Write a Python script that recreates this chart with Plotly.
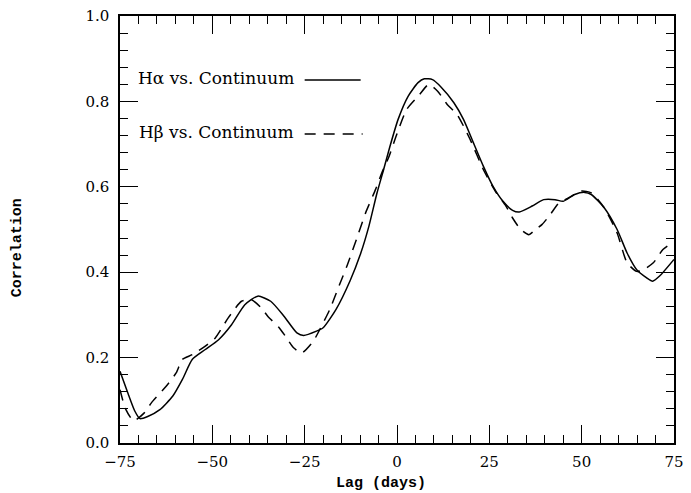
import plotly.graph_objects as go

# H-alpha vs continuum (solid)
lag_ha = [-75, -73, -71, -69.6, -67.5, -64.2, -60.7, -58.1, -55.4, -51.9, -48.3, -44.8, -41.2,
          -37.7, -34.2, -30.6, -27.1, -25.3, -21.8, -20, -16.5, -12.7, -9.8, -7.6, -5.4, -3.6,
          -1.9, 0.3, 3.0, 5.7, 7.4, 9.6, 11.9, 15.4, 18.0, 20.7, 23.4, 26.0, 28.7, 31.3, 33.1,
          36.6, 39.7, 42.8, 45.0, 48.1, 50.8, 52.6, 56.1, 59.6, 62.3, 64.9, 67.6, 69.2, 71.1, 75]
corr_ha = [0.168, 0.12, 0.075, 0.057, 0.062, 0.078, 0.110, 0.149, 0.196, 0.219, 0.242, 0.277, 0.324,
           0.344, 0.332, 0.297, 0.258, 0.252, 0.262, 0.27, 0.313, 0.38, 0.445, 0.508, 0.586, 0.641,
           0.695, 0.758, 0.812, 0.844, 0.853, 0.851, 0.834, 0.797, 0.758, 0.703, 0.648, 0.601, 0.566,
           0.545, 0.541, 0.555, 0.570, 0.570, 0.566, 0.582, 0.587, 0.582, 0.551, 0.500, 0.445, 0.406,
           0.387, 0.379, 0.391, 0.430]

# H-beta vs continuum (dashed)
lag_hb = [-75, -73.5, -71.3, -68.5, -66.5, -62.5, -59.8, -58.1, -55.4, -51.9, -49.2, -45.7, -42.1,
          -39.5, -36.8, -35.0, -31.9, -30.2, -28.0, -25.8, -22.7, -20.9, -18.2, -15.6, -13.4, -10.7,
          -8.5, -5.8, -4.1, -2.3, -0.1, 2.6, 6.1, 8.6, 11.0, 13.6, 16.3, 19.8, 23.4, 26.9, 29.5,
          31.3, 33.5, 35.7, 37.5, 39.3, 41.5, 43.7, 46.4, 49.9, 52.6, 56.1, 59.6, 62.3, 64.9, 66.7,
          69.4, 72.0, 75]
corr_hb = [0.125, 0.08, 0.052, 0.07, 0.094, 0.133, 0.164, 0.196, 0.207, 0.227, 0.246, 0.293, 0.332,
           0.336, 0.317, 0.297, 0.270, 0.250, 0.223, 0.211, 0.238, 0.266, 0.313, 0.37, 0.418, 0.484,
           0.539, 0.594, 0.633, 0.668, 0.722, 0.781, 0.816, 0.84, 0.824, 0.793, 0.769, 0.711, 0.640,
           0.586, 0.555, 0.527, 0.500, 0.488, 0.500, 0.512, 0.535, 0.561, 0.574, 0.590, 0.586, 0.551,
           0.492, 0.422, 0.402, 0.406, 0.422, 0.453, 0.472]

# tick values and labels for the lag axis
x_tickvals = [-75, -50, -25, 0, 25, 50, 75]
x_ticktext = ["\u221275", "\u221250", "\u221225", "0", "25", "50", "75"]

legend_labels = ["H\u03b1 vs. Continuum", "H\u03b2 vs. Continuum"]
x_title = "Lag (days)"
y_title = "Correlation"

DASH = "11px,8px"

fig = go.Figure()
fig.add_trace(go.Scatter(x=lag_ha, y=corr_ha, mode="lines",
                         line=dict(color="black", width=1.5, shape="spline", smoothing=0.6),
                         showlegend=False, hoverinfo="skip"))
fig.add_trace(go.Scatter(x=lag_hb, y=corr_hb, mode="lines",
                         line=dict(color="black", width=1.5, dash=DASH, shape="spline", smoothing=0.6),
                         showlegend=False, hoverinfo="skip"))

W, H = 691, 493
ml, mr, mt, mb = 120, 7, 16, 50
pw, ph = W - ml - mr, H - mt - mb


def px(xp):
    return (xp - ml) / pw


def py(yp):
    return (H - mb - yp) / ph


serif = "DejaVu Serif"
mono = "Liberation Mono"

axis_common = dict(showline=True, linecolor="black", linewidth=1.5, mirror="ticks",
                   ticks="inside", ticklen=18, tickwidth=1.3, tickcolor="black",
                   showgrid=False, zeroline=False,
                   tickfont=dict(family=serif, size=15, color="black"))

fig.update_xaxes(range=[-75, 75], tickmode="array", tickvals=x_tickvals, ticktext=x_ticktext,
                 ticklabelstandoff=4, ticklabeloverflow="allow",
                 minor=dict(tickmode="linear", tick0=-75, dtick=5, ticks="inside", ticklen=8,
                            tickwidth=1.2, tickcolor="black", showgrid=False),
                 **axis_common)
fig.update_yaxes(range=[0, 1.0001], tick0=0, dtick=0.2, tickformat=".1f", ticklabelstandoff=6,
                 minor=dict(dtick=0.04, ticks="inside", ticklen=8, tickwidth=1.2, tickcolor="black", showgrid=False),
                 **axis_common)

annotations = [
    dict(text=y_title, xref="paper", yref="paper", x=px(16), y=py(247.5), textangle=-90,
         showarrow=False, font=dict(family=mono, size=15, color="black", weight="bold"),
         xanchor="center", yanchor="middle"),
    dict(text=x_title, xref="paper", yref="paper", x=px(386), y=py(484),
         showarrow=False, font=dict(family=mono, size=15, color="black", weight="bold"),
         xanchor="center", yanchor="middle"),
    dict(text=legend_labels[0], xref="paper", yref="paper", x=px(299), y=py(77.5),
         showarrow=False, font=dict(family=serif, size=17, color="black"), xanchor="right", yanchor="middle"),
    dict(text=legend_labels[1], xref="paper", yref="paper", x=px(299), y=py(132),
         showarrow=False, font=dict(family=serif, size=17, color="black"), xanchor="right", yanchor="middle"),
]

shapes = [
    dict(type="line", xref="paper", yref="paper", x0=px(308), x1=px(365), y0=py(80), y1=py(80),
         line=dict(color="black", width=1.3)),
    dict(type="line", xref="paper", yref="paper", x0=px(308), x1=px(367), y0=py(134), y1=py(134),
         line=dict(color="black", width=1.3, dash=DASH)),
]

fig.update_layout(width=W, height=H, margin=dict(l=ml, r=mr, t=mt, b=mb),
                  paper_bgcolor="white", plot_bgcolor="white",
                  annotations=annotations, shapes=shapes, showlegend=False)

fig.write_html("out.html")
